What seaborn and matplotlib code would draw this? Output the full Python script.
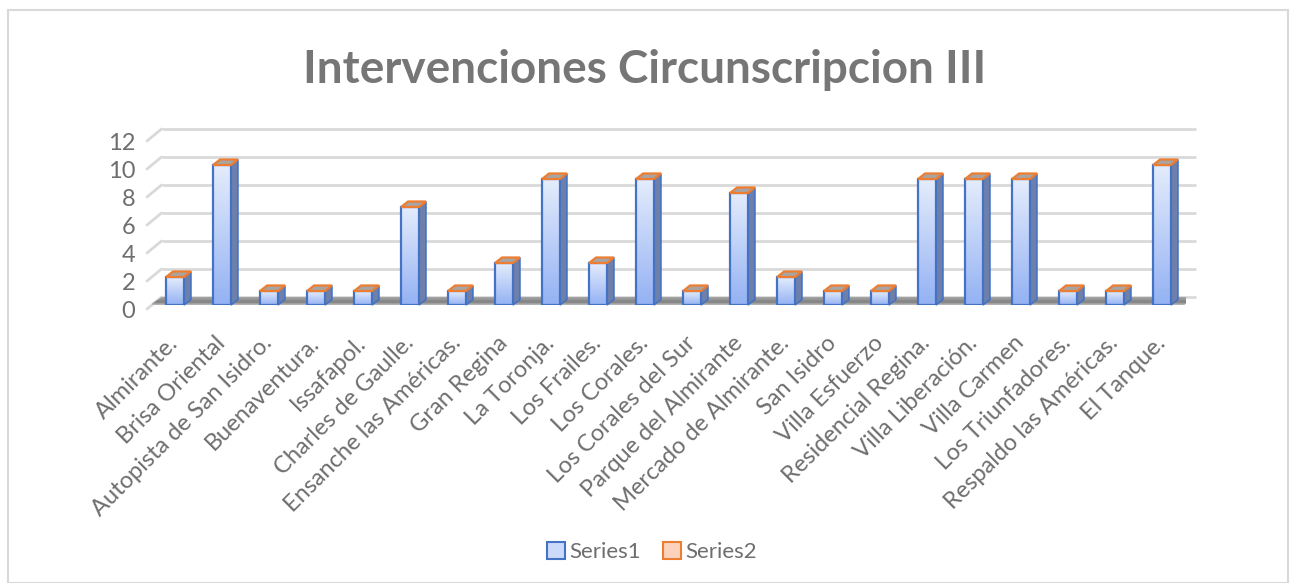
import numpy as np
import pandas as pd
import matplotlib
matplotlib.use('Agg')
import matplotlib.pyplot as plt
import seaborn as sns
from matplotlib.patches import Polygon, Rectangle, Patch
from matplotlib.transforms import ScaledTranslation
from matplotlib.colors import LinearSegmentedColormap

# Data
categories = ['Almirante.', 'Brisa Oriental', 'Autopista de San Isidro.', 'Buenaventura.',
              'Issafapol.', 'Charles de Gaulle.', 'Ensanche las Américas.', 'Gran Regina',
              'La Toronja.', 'Los Frailes.', 'Los Corales.', 'Los Corales del Sur',
              'Parque del Almirante', 'Mercado de Almirante.', 'San Isidro', 'Villa Esfuerzo',
              'Residencial Regina.', 'Villa Liberación.', 'Villa Carmen', 'Los Triunfadores.',
              'Respaldo las Américas.', 'El Tanque.']
series1 = [2, 10, 1, 1, 1, 7, 1, 3, 9, 3, 9, 1, 8, 2, 1, 1, 9, 9, 9, 1, 1, 10]
series2 = [0] * len(categories)
y_ticks = [0, 2, 4, 6, 8, 10, 12]

df = pd.DataFrame({'Barrio': categories, 'Series1': series1, 'Series2': series2})

sns.set_style('white')
plt.rcParams['font.family'] = ['Lato', 'DejaVu Sans']

W, H = 1290, 583
fig = plt.figure(figsize=(W / 100, H / 100), dpi=100)

# chart border
fig.patches.append(Rectangle((8 / W, 0), (1288 - 8) / W, (H - 10) / H, transform=fig.transFigure,
                             fill=False, edgecolor='#d9d9d9', linewidth=1.5))

ax_left, ax_right, ax_bottom, ax_top = 151.5, 1185.5, 305, 137
ax = fig.add_axes([ax_left / W, (H - ax_bottom) / H, (ax_right - ax_left) / W, (ax_bottom - ax_top) / H])

sns.barplot(data=df, x='Barrio', y='Series1', ax=ax, width=0.38, color='#c9d7f8',
            edgecolor='#4472c4', linewidth=1.6, saturation=1, zorder=3)

n = len(categories)
ax.set_xlim(-0.5, n - 0.5)
ax.set_ylim(0, 12)
px_x = (ax_right - ax_left) / n
px_y = (ax_bottom - ax_top) / 12


def shifted(dx, dy):
    return ax.transData + ScaledTranslation(dx / 100, dy / 100, fig.dpi_scale_trans)


# back wall gridlines + side diagonals
for v in y_ticks:
    ax.plot([-0.5, n - 0.5], [v, v], transform=shifted(10, 8), color='#d9d9d9', lw=2,
            clip_on=False, zorder=0.5, solid_capstyle='butt')
    ax.plot([-0.5 - 14.5 / px_x, -0.5], [v - 12 / px_y, v], transform=shifted(10, 8),
            color='#d9d9d9', lw=2, clip_on=False, zorder=0.5)
    # value labels at the front end of the side diagonal
    ax.text(-0.5, v, str(v), transform=shifted(-16, -6), ha='right', va='center',
            fontsize=17, color='#6e6e6e', clip_on=False)

# floor
floor = Polygon([(-0.5 - 4 / px_x, -2 / px_y), (n - 0.5 - 4 / px_x, -2 / px_y),
                 (n - 0.5 + 10 / px_x, 8 / px_y), (-0.5 + 10 / px_x, 8 / px_y)],
                closed=True, facecolor='none', edgecolor='none', clip_on=False)
ax.add_patch(floor)
floor_cmap = LinearSegmentedColormap.from_list('floor', ['#e6e6e6', '#808080', '#a6a6a6'])
fim = ax.imshow(np.linspace(0, 1, 64).reshape(-1, 1), cmap=floor_cmap, aspect='auto',
                extent=(-0.5 - 4 / px_x, n - 0.5 + 10 / px_x, -2 / px_y, 8 / px_y),
                origin='lower', zorder=1, clip_on=True)
fim.set_clip_path(floor)

# 3D bars
front_cmap = LinearSegmentedColormap.from_list('front', ['#94b2f3', '#e4ecfc'])
dx, dy = 7 / px_x, 5.5 / px_y
for bar, s2 in zip(ax.patches[:n], series2):
    x0, y0 = bar.get_x(), bar.get_y()
    w, h = bar.get_width(), bar.get_height()
    im = ax.imshow(np.linspace(0, 1, 64).reshape(-1, 1), cmap=front_cmap, aspect='auto',
                   extent=(x0, x0 + w, y0, y0 + h), origin='lower', zorder=3)
    im.set_clip_path(bar)
    bar.set_facecolor('none')
    bar.set_zorder(3.5)
    side = Polygon([(x0 + w, 0), (x0 + w + dx, dy), (x0 + w + dx, h + s2 + dy), (x0 + w, h + s2)],
                   closed=True, facecolor='#6e80aa', edgecolor='#4472c4', linewidth=1.2, zorder=3.2,
                   clip_on=False)
    ax.add_patch(side)
    top = Polygon([(x0, h + s2), (x0 + w, h + s2), (x0 + w + dx, h + s2 + dy), (x0 + dx, h + s2 + dy)],
                  closed=True, facecolor='#a8a4a2', edgecolor='#ed7d31', linewidth=1.6, zorder=4,
                  clip_on=False)
    ax.add_patch(top)

ax.set_xlim(-0.5, n - 0.5)
ax.set_ylim(0, 12)
ax.set_yticks([])
ax.set_xticks(range(n))
ax.set_xticklabels(categories, rotation=45, ha='right', va='center', rotation_mode='anchor',
                   fontsize=17, color='#6e6e6e')
ax.tick_params(axis='both', length=0)
ax.tick_params(axis='x', pad=25)
ax.set_xlabel('')
ax.set_ylabel('')
for sp in ax.spines.values():
    sp.set_visible(False)
ax.patch.set_alpha(0)

fig.text(0.5, 1 - 70 / H, 'Intervenciones Circunscripcion III', ha='center', va='center',
         fontsize=33, fontweight='bold', color='#767676')

handles = [Patch(facecolor='#cbd9fa', edgecolor='#4472c4', linewidth=1.5, label='Series1'),
           Patch(facecolor='#fcd2bd', edgecolor='#ed7d31', linewidth=1.5, label='Series2')]
fig.legend(handles=handles, loc='center', bbox_to_anchor=(652 / W, 1 - 552 / H), ncol=2, frameon=False,
           fontsize=16, handlelength=0.8, handleheight=0.8, handletextpad=0.2, columnspacing=1.0,
           labelcolor='#6e6e6e')

fig.savefig('out.png', dpi=100)
